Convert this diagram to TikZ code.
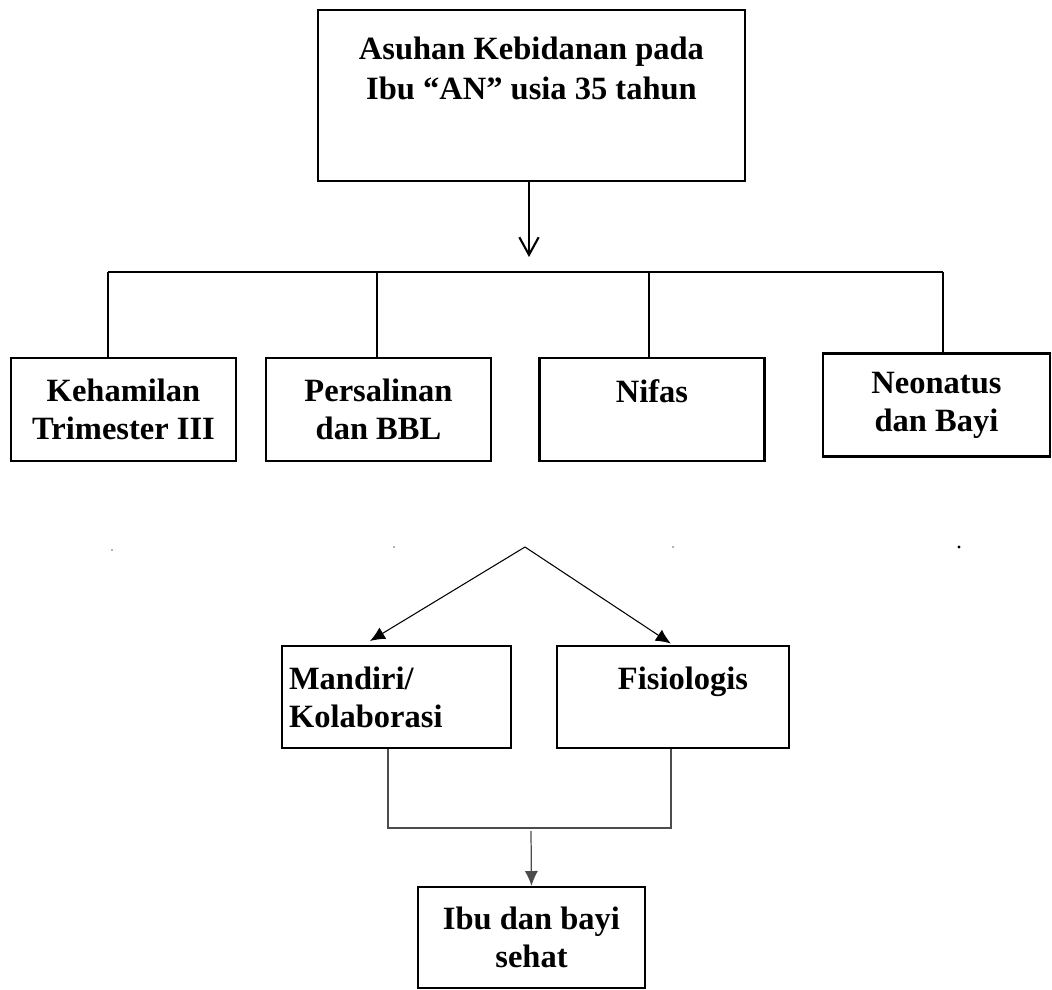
\documentclass[tikz,border=0pt]{standalone}
\usepackage{fontspec}
\setmainfont{Liberation Serif}
\usetikzlibrary{arrows.meta}
\begin{document}
\begin{tikzpicture}[x=0.02cm,y=-0.02cm,
  box/.style={draw,line width=1.2pt,align=center,inner sep=2pt,
    font=\fontsize{18.5}{21.5}\selectfont\bfseries},
  stage/.style={box,line width=1.5pt,minimum width=4.5cm,minimum height=2.06cm},
  bar/.style={line width=1.2pt},
  joint/.style={draw=black!70,line width=0.7pt},
  flow/.style={-{Latex[length=8.5pt,width=7.5pt]},line width=0.6pt}]
\useasboundingbox (0,0) rectangle (1052,990);
\node[box,line width=1.1pt,minimum width=8.54cm,minimum height=3.42cm,
  font=\fontsize{18.5}{22.7}\selectfont\bfseries] (asuhan) at (531.5,95.5)
  {Asuhan Kebidanan pada\\Ibu “AN” usia 35 tahun\\[0.3cm]~};
\coordinate (tip) at (529,257);
\draw[bar,-{Straight Barb[length=10pt,width=11pt]}] (asuhan.south -| tip) -- (tip);
% the four stages
\coordinate (j1) at (108,272);
\coordinate (j2) at (377,272);
\coordinate (j3) at (649,272);
\coordinate (j4) at (943,272);
\draw[bar] (j1) -- (j4);
\node[stage] (hamil) at (123.5,409.5) {Kehamilan\\Trimester III};
\node[stage] (salin) at (378.5,409.5) {Persalinan\\dan BBL};
\node[stage] (nifas) at (652,409.5) {Nifas\\~};
\node[stage,minimum width=4.54cm] (neo) at (936.5,405) {Neonatus\\dan Bayi};
\draw[bar] (j1) -- (j1 |- hamil.north);
\draw[bar] (j2) -- (j2 |- salin.north);
\draw[bar] (j3) -- (j3 |- nifas.north);
\draw[bar] (j4) -- (j4 |- neo.north);
\fill[black!60] (112,550) circle (0.5pt) (394,547) circle (0.5pt) (673,547) circle (0.5pt);
\fill (959,547) circle (0.9pt);
% two kinds of care
\node[box,minimum width=4.58cm,minimum height=2.04cm,text width=4.3cm,align=left]
  (mandiri) at (396.5,697) {Mandiri/\\Kolaborasi};
\node[box,minimum width=4.64cm,minimum height=2.04cm] (fis) at (673,697) {\hspace*{0.4cm}Fisiologis\\~};
\coordinate (fork) at (525,547);
\coordinate (aimL) at (370,641);
\draw[flow] (fork) -- (aimL);
\draw[flow,shorten >=1.5pt] (fork) -- (fis.north);
% result
\node[box,minimum width=4.54cm,minimum height=2.02cm] (sehat) at (531.5,937.5) {Ibu dan bayi\\sehat};
\coordinate (m1) at (388,828);
\coordinate (f1) at (671,828);
\coordinate (m2) at (531,831);
\draw[joint] (m1 |- mandiri.south) -- (m1) -- (f1) -- (f1 |- fis.south);
\draw[joint,flow,line width=0.7pt] (m2) -- (sehat.north);
\end{tikzpicture}
\end{document}
